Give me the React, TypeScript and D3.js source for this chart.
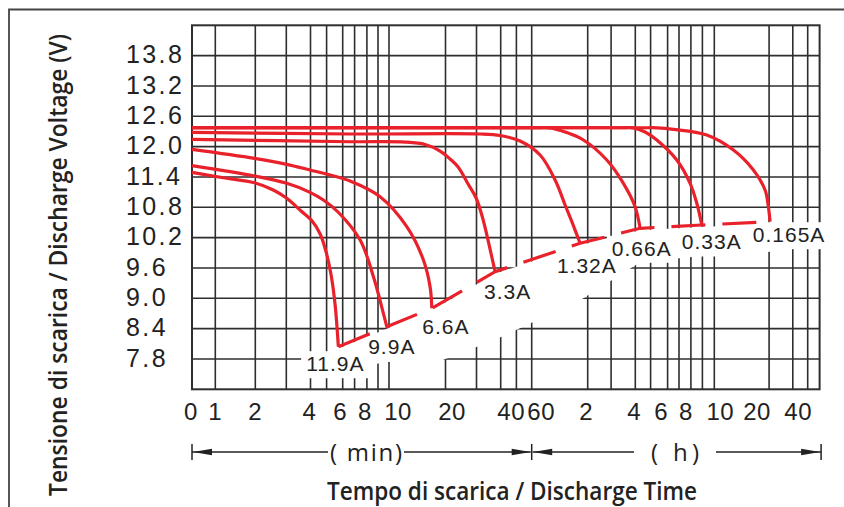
import React, { useEffect, useRef } from "react";
import * as d3 from "d3";

// ---------------- data ----------------
// discharge time in minutes, voltage in V
const GRID_MINUTES = [0, 1, 2, 3, 4, 5, 6, 7, 8, 9, 10, 20, 30, 40, 50, 60, 120, 180, 240, 300, 360, 420, 480, 540, 600, 1200, 1800, 2400, 3000];
const Y_TICKS = [7.8, 8.4, 9.0, 9.6, 10.2, 10.8, 11.4, 12.0, 12.6, 13.2, 13.8];
const Y_DOMAIN = [7.2, 14.4];
const X_TICK_VALUES = [0, 1, 2, 4, 6, 8, 10, 20, 40, 60, 120, 240, 360, 480, 600, 1200, 2400];
const X_TICK_LABELS = ["0", "1", "2", "4", "6", "8", "10", "20", "40", "60", "2", "4", "6", "8", "10", "20", "40"];
const SERIES_NAMES = ["11.9A", "9.9A", "6.6A", "3.3A", "1.32A", "0.66A", "0.33A", "0.165A"];

const C_11_9: [number, number][] = [[0, 11.49], [1.2, 11.385], [1.98, 11.286], [2.58, 11.142], [3.02, 10.978], [3.61, 10.727], [4.1, 10.529], [4.6, 10.272], [4.97, 9.915], [5.28, 9.461], [5.53, 8.867], [5.73, 8.042]];
const C_9_9: [number, number][] = [[0, 11.623], [1.98, 11.419], [3.02, 11.274], [3.98, 11.096], [4.8, 10.944], [5.71, 10.707], [7.45, 10.153], [8.59, 9.427], [9.49, 8.703], [9.8, 8.438]];
const C_6_6: [number, number][] = [[0, 11.947], [1.98, 11.769], [3.02, 11.65], [3.98, 11.538], [5.22, 11.439], [6.62, 11.32], [9.19, 11.009], [13.15, 10.416], [16.09, 9.757], [17.27, 9.229], [17.58, 8.802]];
const C_3_3: [number, number][] = [[0, 12.145], [6.62, 12.097], [12.85, 12.09], [16.39, 12.042], [19.04, 11.913], [21.48, 11.755], [24.06, 11.597], [27.29, 11.261], [29.87, 10.984], [32.31, 10.628], [34.38, 10.232], [36.24, 9.837], [37.69, 9.526]];
const C_1_32: [number, number][] = [[0, 12.283], [6.62, 12.25], [31.49, 12.25], [39.8, 12.22], [52.4, 12.111], [69, 11.834], [85.1, 11.34], [95.8, 10.845], [104.4, 10.45], [111.9, 10.088]];
const C_0_66: [number, number][] = [[0, 12.374], [60, 12.374], [79.7, 12.372], [95.8, 12.289], [115.4, 12.131], [169, 11.735], [210.5, 11.274], [239.5, 10.812], [258.8, 10.385]];
const C_0_33: [number, number][] = [[0, 12.374], [200, 12.374], [235.3, 12.372], [278.4, 12.289], [321.9, 12.131], [408.4, 11.735], [476, 11.274], [510.8, 10.879], [536.9, 10.45]];
const C_0_165: [number, number][] = [[0, 12.374], [280, 12.374], [322.9, 12.372], [390.5, 12.343], [562.2, 12.23], [809.1, 11.933], [1028, 11.538], [1156, 11.142], [1192, 10.812], [1225, 10.515]];

const SERIES = [C_11_9, C_9_9, C_6_6, C_3_3, C_1_32, C_0_66, C_0_33, C_0_165];

// ---------------- layout ----------------
const W = 844;
const H = 507;
const PLOT = { left: 192, top: 25.3, right: 819.6, bottom: 389.3 };
// hand-drawn pseudo-log time axis: pixel offset of each grid value from plot left
const GRID_X_OFFSETS = [0, 23.3, 63.3, 94.3, 118.5, 134.6, 150.7, 162.6, 174.9, 186, 197, 253.5, 284.5, 308.7, 324.4, 339.7, 395.7, 419.1, 443.3, 458.6, 475.6, 487, 498.9, 510.4, 522.3, 577.1, 600.8, 615.7, 627.6];
const TICK_DX = [-1, 0, 0, -1, -2.5, -2, 9, 6.5, 10.5, 9.5, -1.5, -1, -6.5, -5, 6, -12, -9.5];
const LABEL_OFFSETS: [number, number][] = [[-3, 17], [5, 20], [14, 18], [12.5, 20], [6.7, 22], [1.7, 20], [10, 17], [19, 13]];
const BAND_DEPTH = [25, 35, 56, 68, 57, 34, 31, 30];
const RED = "#e8212b";
const GRID = "#2e2e2e";
const NUM_FONT = "'Liberation Sans', Arial, Helvetica, sans-serif";
const TITLE_FONT = "'Open Sans', 'Noto Sans', sans-serif";

export default function App() {
  const ref = useRef<SVGSVGElement>(null);

  useEffect(() => {
    const svg = d3.select(ref.current);
    svg.selectAll("*").remove();

    const x = d3.scaleLinear().domain(GRID_MINUTES).range(GRID_X_OFFSETS.map((o) => PLOT.left + o));
    const y = d3.scaleLinear().domain(Y_DOMAIN).range([PLOT.bottom, PLOT.top]);

    svg.append("rect").attr("width", W).attr("height", H).attr("fill", "#fff");

    // outer frame (top + left)
    svg.append("path").attr("d", `M9,507 L9,9.5 L844,9.5`).attr("fill", "none").attr("stroke", "#444").attr("stroke-width", 1.8);

    // grid
    const g = svg.append("g");
    g.selectAll("line.v")
      .data(GRID_MINUTES.slice(1, -1))
      .join("line")
      .attr("x1", (d) => x(d)).attr("x2", (d) => x(d))
      .attr("y1", PLOT.top).attr("y2", PLOT.bottom)
      .attr("stroke", GRID).attr("stroke-width", 1.6);
    g.selectAll("line.h")
      .data(Y_TICKS)
      .join("line")
      .attr("x1", PLOT.left).attr("x2", PLOT.right)
      .attr("y1", (d) => y(d)).attr("y2", (d) => y(d))
      .attr("stroke", GRID).attr("stroke-width", 1.6);
    g.append("rect")
      .attr("x", PLOT.left).attr("y", PLOT.top)
      .attr("width", PLOT.right - PLOT.left).attr("height", PLOT.bottom - PLOT.top)
      .attr("fill", "none").attr("stroke", GRID).attr("stroke-width", 2);

    // end points
    const ends = SERIES.map((s) => s[s.length - 1]);
    const endPx = ends.map((e) => [x(e[0]), y(e[1])] as [number, number]);

    // white band below the end-voltage line
    const bg = svg.append("g");
    const top = endPx.map(([px, py]) => [px, py + 2] as [number, number]);
    const bot = endPx.map(([px, py], i) => [px, Math.min(py + BAND_DEPTH[i], PLOT.bottom - 2)] as [number, number]).reverse();
    bg.append("path")
      .attr("d", d3.line()([...top, ...bot]) + "Z")
      .attr("fill", "#fff");

    // curves
    const line = d3.line<[number, number]>()
      .x((d) => x(d[0]))
      .y((d) => y(d[1]))
      .curve(d3.curveCatmullRom.alpha(0.5));
    svg.append("g")
      .selectAll("path")
      .data(SERIES)
      .join("path")
      .attr("d", (d) => line(d))
      .attr("fill", "none")
      .attr("stroke", RED)
      .attr("stroke-width", 3.2);

    // end-voltage connector (dashed)
    svg.append("path")
      .attr("d", d3.line()(endPx))
      .attr("fill", "none")
      .attr("stroke", RED)
      .attr("stroke-width", 3.2)
      .attr("stroke-dasharray", "34 17");

    // labels with white boxes
    const lg = svg.append("g");
    SERIES_NAMES.forEach((name, i) => {
      const [px, py] = endPx[i];
      const [dx, dy] = LABEL_OFFSETS[i];
      const t = lg.append("text")
        .attr("x", px + dx).attr("y", py + dy)
        .attr("text-anchor", "middle")
        .attr("dominant-baseline", "central")
        .attr("font-family", NUM_FONT)
        .attr("font-size", 21)
        .style("letter-spacing", "1px")
        .attr("fill", "#222")
        .text(name);
      const bb = (t.node() as SVGTextElement).getBBox();
      bg.append("rect")
        .attr("x", bb.x - 5).attr("y", bb.y - 1)
        .attr("width", bb.width + 10).attr("height", bb.height + 4)
        .attr("fill", "#fff");
    });

    // y tick labels
    svg.append("g")
      .selectAll("text")
      .data(Y_TICKS)
      .join("text")
      .attr("x", 126)
      .attr("y", (d) => y(d) + 7.6)
      .attr("font-family", NUM_FONT)
      .attr("font-size", 25)
      .style("letter-spacing", "2.4px")
      .attr("fill", "#222")
      .text((d) => d.toFixed(1));

    // x tick labels
    svg.append("g")
      .selectAll("text")
      .data(X_TICK_VALUES)
      .join("text")
      .attr("x", (d, i) => x(d) + TICK_DX[i])
      .attr("y", 420)
      .attr("text-anchor", "middle")
      .attr("font-family", NUM_FONT)
      .attr("font-size", 24)
      .style("letter-spacing", "0.5px")
      .attr("fill", "#222")
      .text((d, i) => X_TICK_LABELS[i]);

    // unit arrows row
    const ay = 452;
    const ag = svg.append("g").attr("stroke", "#222").attr("stroke-width", 1.5).attr("fill", "#222");
    const xMin0 = x(0);
    const xMid = x(60);
    const xEnd = PLOT.right + 1.5;
    [xMin0, xMid, xEnd].forEach((bx) => {
      ag.append("line").attr("x1", bx).attr("x2", bx).attr("y1", ay - 8).attr("y2", ay + 8);
    });
    const seg = (a: number, b: number) => ag.append("line").attr("x1", a).attr("x2", b).attr("y1", ay).attr("y2", ay);
    const head = (tip: number, dir: number) =>
      ag.append("path")
        .attr("stroke", "none")
        .attr("d", `M${tip},${ay} L${tip + dir * 19},${ay - 3.3} L${tip + dir * 19},${ay + 3.3} Z`);
    seg(xMin0, 328); seg(404, xMid - 1);
    head(xMin0 + 1, 1); head(xMid - 1, -1);
    seg(xMid + 1, 634); seg(716, xEnd);
    head(xMid + 1.5, 1); head(xEnd - 1, -1);
    svg.append("text")
      .attr("x", 366).attr("y", ay + 8.5)
      .attr("text-anchor", "middle")
      .attr("font-family", TITLE_FONT).attr("font-size", 24)
      .attr("fill", "#222")
      .attr("textLength", 72).attr("lengthAdjust", "spacing")
      .text("( min)");
    svg.append("text")
      .attr("x", 675).attr("y", ay + 8.5)
      .attr("text-anchor", "middle")
      .attr("font-family", TITLE_FONT).attr("font-size", 24)
      .attr("fill", "#222")
      .attr("textLength", 48).attr("lengthAdjust", "spacing")
      .text("( h)");

    // axis titles
    svg.append("text")
      .attr("x", 512).attr("y", 500)
      .attr("text-anchor", "middle")
      .attr("font-family", TITLE_FONT).attr("font-size", 25).attr("font-weight", 600)
      .attr("fill", "#222")
      .attr("textLength", 370).attr("lengthAdjust", "spacingAndGlyphs")
      .text("Tempo di scarica / Discharge Time");
    svg.append("text")
      .attr("transform", "translate(67,265) rotate(-90) scale(1,1.19)")
      .attr("text-anchor", "middle")
      .attr("font-family", TITLE_FONT).attr("font-size", 21).attr("font-weight", 600)
      .attr("fill", "#222")
      .attr("textLength", 462).attr("lengthAdjust", "spacingAndGlyphs")
      .text("Tensione di scarica / Discharge Voltage (V)");
  }, []);

  return (
    <svg
      ref={ref}
      width={W}
      height={H}
      style={{ position: "absolute", left: 0, top: 0, display: "block" }}
    />
  );
}
